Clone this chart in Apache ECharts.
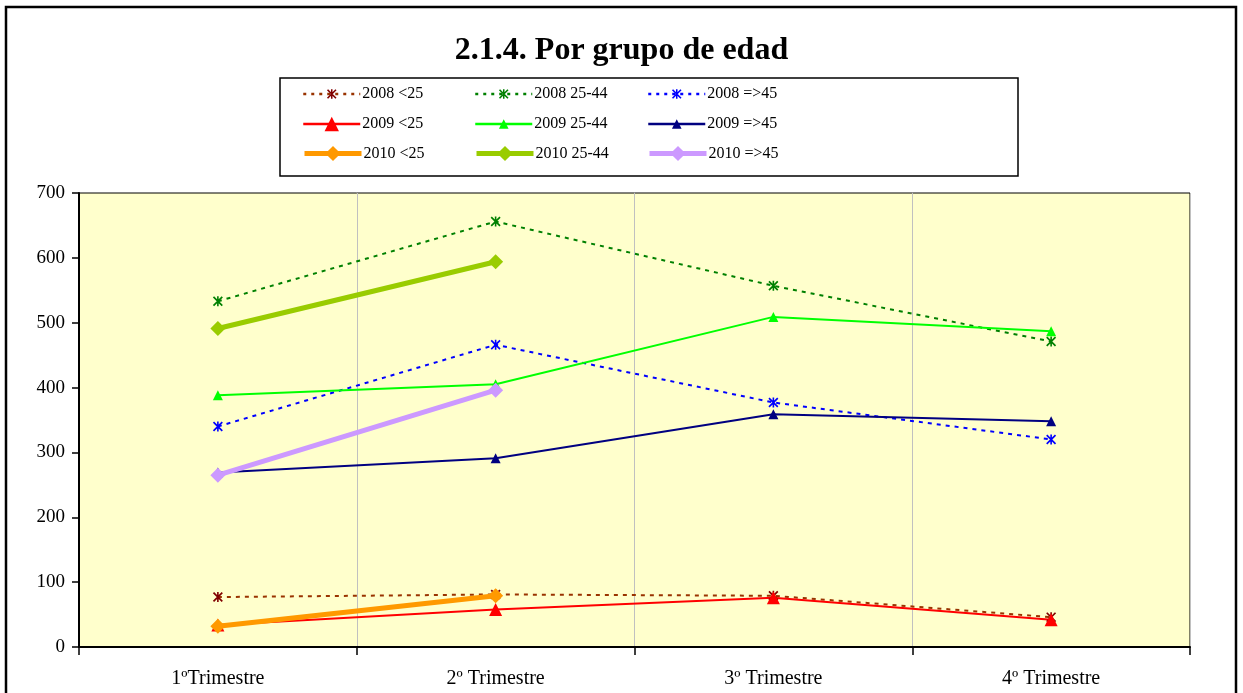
<!DOCTYPE html>
<html><head><meta charset="utf-8">
<script src="https://cdn.jsdelivr.net/npm/echarts@6/dist/echarts.min.js"></script>
<style>html,body{margin:0;padding:0;background:#fff}#c{width:1243px;height:693px}</style>
</head><body><div id="c"></div>
<script>
const categories = ['1ºTrimestre', '2º Trimestre', '3º Trimestre', '4º Trimestre'];
const s2008_lt25 = [77, 81, 79, 46];
const s2008_25_44 = [533, 656, 557, 471];
const s2008_ge45 = [340, 466, 377, 320];
const s2009_lt25 = [34, 58, 76, 42];
const s2009_25_44 = [388, 405, 509, 487];
const s2009_ge45 = [269, 291, 359, 348];
const s2010_lt25 = [32, 79];
const s2010_25_44 = [491, 594];
const s2010_ge45 = [265, 396];
const yTicks = [0, 100, 200, 300, 400, 500, 600, 700];

const FONT = '"Liberation Serif", "Times New Roman", serif';
const STAR = 'path://M4.2,0 L5.8,0 L5.8,10 L4.2,10 Z M0,1.2 L1.2,0 L10,8.8 L8.8,10 Z M8.8,0 L10,1.2 L1.2,10 L0,8.8 Z';

function mk(name, data, color, mcolor, width, dashed, symbol, size) {
  return {
    name: name, type: 'line', data: data,
    symbol: symbol, symbolSize: size, showSymbol: true,
    lineStyle: { color: color, width: width, type: dashed ? [4, 5] : 'solid' },
    itemStyle: { color: mcolor, borderWidth: 0 },
    emphasis: { disabled: true },
    animation: false, z: 3
  };
}

const series = [
  mk('2008 <25', s2008_lt25, '#993300', '#800000', 2, true, STAR, 10),
  mk('2008 25-44', s2008_25_44, '#008000', '#008000', 2, true, STAR, 10),
  mk('2008 =>45', s2008_ge45, '#0000FF', '#0000FF', 2, true, STAR, 10),
  mk('2009 <25', s2009_lt25, '#FF0000', '#FF0000', 2, false, 'triangle', 13),
  mk('2009 25-44', s2009_25_44, '#00FF00', '#00FF00', 2, false, 'triangle', 10),
  mk('2009 =>45', s2009_ge45, '#000080', '#000080', 2, false, 'triangle', 10),
  mk('2010 <25', s2010_lt25, '#FF9900', '#FF9900', 5, false, 'diamond', 15),
  mk('2010 25-44', s2010_25_44, '#99CC00', '#99CC00', 5, false, 'diamond', 15),
  mk('2010 =>45', s2010_ge45, '#CC99FF', '#CC99FF', 5, false, 'diamond', 15)
];

const colX = [302, 474, 647];
const rowY = [93, 123, 153];
function legendItem(col, row, name, ih, lw, dashed, dy) {
  return {
    orient: 'horizontal', left: colX[col], top: rowY[row] - ih / 2 + dy,
    itemWidth: 57, itemHeight: ih, selectedMode: false, padding: 0,
    data: [{ name: name, lineStyle: { width: lw, type: dashed ? [3, 5] : 'solid', cap: 'butt' } }],
    textStyle: { fontFamily: FONT, fontSize: 16, lineHeight: 8, color: '#000', padding: [0, 0, 0, -3] }
  };
}

const legends = [
  legendItem(0, 0, '2008 <25', 12, 2.5, true, -1),
  legendItem(1, 0, '2008 25-44', 12, 2.5, true, -1),
  legendItem(2, 0, '2008 =>45', 12, 2.5, true, -1),
  legendItem(0, 1, '2009 <25', 18, 2.5, false, 2),
  legendItem(1, 1, '2009 25-44', 12, 2.5, false, -1),
  legendItem(2, 1, '2009 =>45', 12, 2.5, false, -1),
  legendItem(0, 2, '2010 <25', 19, 5, false, 2),
  legendItem(1, 2, '2010 25-44', 19, 5, false, 2),
  legendItem(2, 2, '2010 =>45', 19, 5, false, 2)
];

const chart = echarts.init(document.getElementById('c'));
chart.setOption({
  backgroundColor: '#fff',
  animation: false,
  title: {
    text: '2.1.4. Por grupo de edad', left: 'center', top: 30,
    textStyle: { fontFamily: FONT, fontSize: 32, fontWeight: 'bold', color: '#000' }
  },
  legend: legends,
  graphic: [
    { type: 'rect', shape: { x: 6, y: 7, width: 1230, height: 720 }, style: { fill: 'none', stroke: '#000', lineWidth: 2.5 }, silent: true },
    { type: 'rect', shape: { x: 280, y: 78, width: 738, height: 98 }, style: { fill: 'none', stroke: '#000', lineWidth: 1.5 }, silent: true }
  ],
  grid: { left: 79, right: 53, top: 193, bottom: 46, show: true, backgroundColor: '#FFFFCC', borderColor: '#000', borderWidth: 1 },
  xAxis: {
    type: 'category', data: categories, boundaryGap: true,
    axisLine: { lineStyle: { color: '#000', width: 2 } },
    axisTick: { show: true, length: 8, lineStyle: { color: '#000', width: 1.5 } },
    splitLine: { show: true, lineStyle: { color: '#C0C0C0', width: 1 } },
    axisLabel: { fontFamily: FONT, fontSize: 20, color: '#000', margin: 22 }
  },
  yAxis: {
    type: 'value', min: yTicks[0], max: yTicks[yTicks.length - 1], interval: 100,
    axisLine: { show: true, lineStyle: { color: '#000', width: 2 } },
    axisTick: { show: true, length: 7, lineStyle: { color: '#000', width: 1.5 } },
    splitLine: { show: false },
    axisLabel: { fontFamily: FONT, fontSize: 19, color: '#000', margin: 14 }
  },
  series: series
});
</script></body></html>
